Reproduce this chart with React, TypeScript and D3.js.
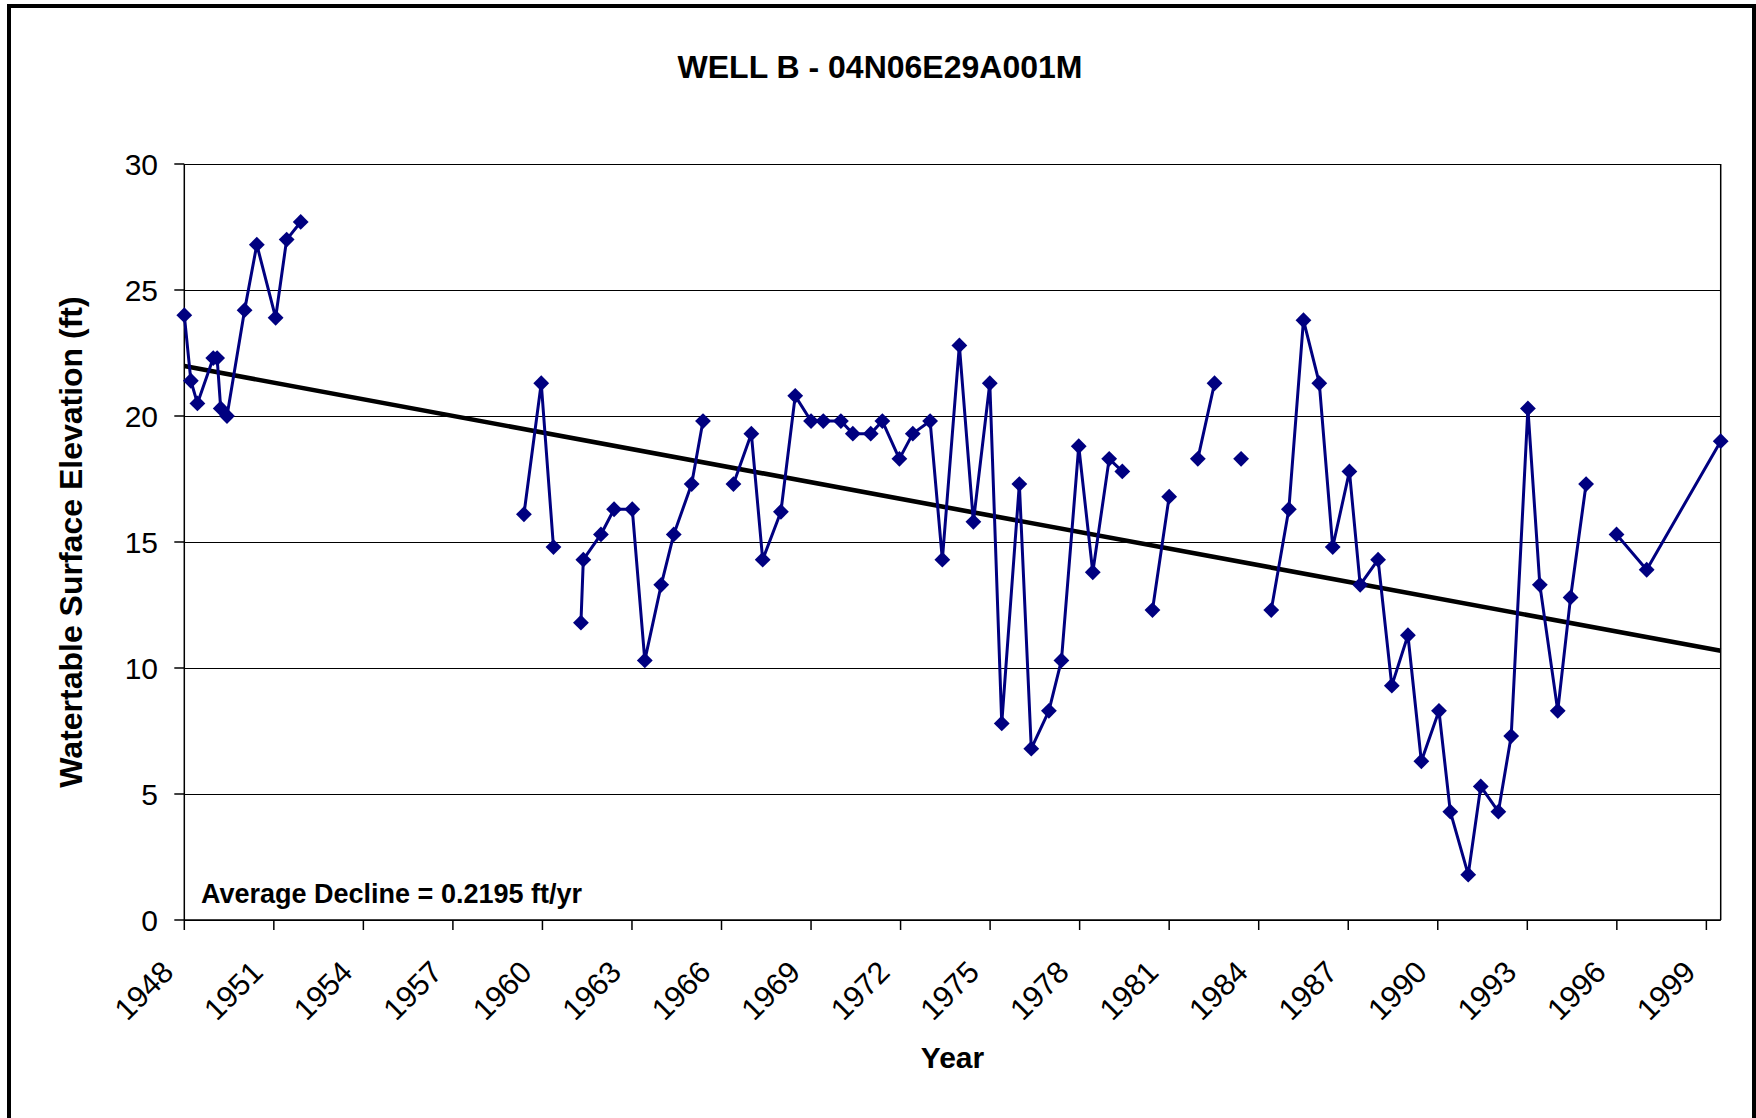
import React from "react";
import * as d3 from "d3";

// Measurement dates (decimal years) and water table elevations (ft); null = gap in record
const years: number[] = [
  1948.0, 1948.22, 1948.44, 1948.97, 1949.1, 1949.22, 1949.43, 1950.02, 1950.43, 1951.06, 1951.43, 1951.9,
  1955.0,
  1959.38, 1959.96, 1960.37,
  1960.8,
  1961.29, 1961.37, 1961.96, 1962.4, 1963.01, 1963.43, 1963.98, 1964.4, 1965.0, 1965.38,
  1965.9,
  1966.4, 1967.0, 1967.38, 1967.99, 1968.47, 1969.0, 1969.41, 1970.0, 1970.4, 1971.0, 1971.39, 1971.96,
  1972.41, 1972.99, 1973.4, 1973.97, 1974.44, 1974.99, 1975.39, 1975.98, 1976.38, 1976.97, 1977.39,
  1977.97, 1978.44, 1978.99, 1979.43,
  1979.9,
  1980.44, 1981.0,
  1981.5,
  1981.96, 1982.52,
  1983.0,
  1983.41,
  1983.9,
  1984.42, 1985.01, 1985.5, 1986.03, 1986.48, 1987.04, 1987.4, 1988.0, 1988.46, 1989.0, 1989.45,
  1990.04, 1990.42, 1991.02, 1991.44, 1992.03, 1992.46, 1993.02, 1993.42, 1994.02, 1994.45, 1994.97,
  1995.5,
  1995.99, 1997.0, 1999.48,
];

const elevations: (number | null)[] = [
  24.0, 21.4, 20.5, 22.3, 22.3, 20.3, 20.0, 24.2, 26.8, 23.9, 27.0, 27.7,
  null,
  16.1, 21.3, 14.8,
  null,
  11.8, 14.3, 15.3, 16.3, 16.3, 10.3, 13.3, 15.3, 17.3, 19.8,
  null,
  17.3, 19.3, 14.3, 16.2, 20.8, 19.8, 19.8, 19.8, 19.3, 19.3, 19.8, 18.3,
  19.3, 19.8, 14.3, 22.8, 15.8, 21.3, 7.8, 17.3, 6.8, 8.3, 10.3,
  18.8, 13.8, 18.3, 17.8,
  null,
  12.3, 16.8,
  null,
  18.3, 21.3,
  null,
  18.3,
  null,
  12.3, 16.3, 23.8, 21.3, 14.8, 17.8, 13.3, 14.3, 9.3, 11.3, 6.3,
  8.3, 4.3, 1.8, 5.3, 4.3, 7.3, 20.3, 13.3, 8.3, 12.8, 17.3,
  null,
  15.3, 13.9, 19.0,
];

const yTicks: number[] = [0, 5, 10, 15, 20, 25, 30];
const xTickYears: number[] = [1948, 1951, 1954, 1957, 1960, 1963, 1966, 1969, 1972, 1975, 1978, 1981, 1984, 1987, 1990, 1993, 1996, 1999];

const trendStart = 1948.0;
const trendEnd = 1999.48;
const trendIntercept = 21.98; // value at trendStart
const trendSlope = -0.2195; // ft per year

const title = "WELL B - 04N06E29A001M";
const yLabel = "Watertable Surface Elevation (ft)";
const xLabel = "Year";
const annotation = "Average Decline = 0.2195 ft/yr";

const W = 1756;
const H = 1118;
const plot = { left: 184.3, right: 1720.7, top: 164, bottom: 920 };
const FONT = "'Liberation Sans', Arial, sans-serif";
const NAVY = "#000080";

export default function App() {
  const x = d3.scaleLinear().domain([1948, 1999.48]).range([plot.left, plot.right]);
  const y = d3.scaleLinear().domain([0, 30]).range([plot.bottom, plot.top]);

  const pts = years.map((yr, i) => ({ yr, v: elevations[i] }));
  const line = d3
    .line<{ yr: number; v: number | null }>()
    .defined((d) => d.v !== null)
    .x((d) => x(d.yr))
    .y((d) => y(d.v as number));

  const diamond = d3.symbol().type(d3.symbolSquare).size(125)();

  const trend = [trendStart, trendEnd].map((t) => ({ t, v: trendIntercept + trendSlope * (t - trendStart) }));

  return (
    <svg width={W} height={H} style={{ position: "absolute", left: 0, top: 0, background: "#fff" }}>
      <rect x={0} y={0} width={W} height={H} fill="#fff" />
      {/* outer border */}
      <rect x={9} y={6} width={1745} height={1140} fill="none" stroke="#000" strokeWidth={4} />

      {/* title */}
      <text x={880} y={78} textAnchor="middle" fontFamily={FONT} fontWeight="bold" fontSize={32} fill="#000">
        {title}
      </text>

      {/* gridlines */}
      {yTicks.map((t) => (
        <line key={"g" + t} x1={plot.left} x2={plot.right} y1={Math.round(y(t)) + 0.5} y2={Math.round(y(t)) + 0.5} stroke="#000" strokeWidth={1} />
      ))}
      {/* plot border right */}
      <line x1={plot.right} x2={plot.right} y1={plot.top} y2={plot.bottom} stroke="#000" strokeWidth={1.5} />

      {/* axes */}
      <line x1={plot.left} x2={plot.left} y1={plot.top} y2={plot.bottom} stroke="#000" strokeWidth={1.5} />
      <line x1={plot.left} x2={plot.right} y1={plot.bottom} y2={plot.bottom} stroke="#000" strokeWidth={1.5} />

      {/* y ticks */}
      {yTicks.map((t) => (
        <g key={"yt" + t}>
          <line x1={plot.left - 10} x2={plot.left} y1={y(t)} y2={y(t)} stroke="#000" strokeWidth={1.5} />
          <text x={158} y={y(t) + 10.8} textAnchor="end" fontFamily={FONT} fontSize={30} fill="#000">
            {t}
          </text>
        </g>
      ))}

      {/* x ticks */}
      {xTickYears.map((t) => (
        <g key={"xt" + t}>
          <line x1={x(t)} x2={x(t)} y1={plot.bottom} y2={plot.bottom + 10} stroke="#000" strokeWidth={1.5} />
          <text
            transform={`translate(${x(t) - 9},${plot.bottom + 54}) rotate(-45)`}
            textAnchor="end"
            fontFamily={FONT}
            fontSize={30.5}
            fill="#000"
          >
            {t}
          </text>
        </g>
      ))}

      {/* trend line */}
      <line
        x1={x(trend[0].t)}
        y1={y(trend[0].v)}
        x2={x(trend[1].t)}
        y2={y(trend[1].v)}
        stroke="#000"
        strokeWidth={4.6}
      />

      {/* series */}
      <path d={line(pts) || ""} fill="none" stroke={NAVY} strokeWidth={3} strokeLinejoin="round" />
      {pts
        .filter((d) => d.v !== null)
        .map((d, i) => (
          <path
            key={"m" + i}
            d={diamond || ""}
            transform={`translate(${x(d.yr)},${y(d.v as number)}) rotate(45)`}
            fill={NAVY}
          />
        ))}

      {/* annotation */}
      <text x={201} y={903} fontFamily={FONT} fontWeight="bold" fontSize={27} fill="#000">
        {annotation}
      </text>

      {/* axis titles */}
      <text
        transform={`translate(82,${(plot.top + plot.bottom) / 2}) rotate(-90)`}
        textAnchor="middle"
        fontFamily={FONT}
        fontWeight="bold"
        fontSize={32}
        fill="#000"
      >
        {yLabel}
      </text>
      <text x={(plot.left + plot.right) / 2} y={1068} textAnchor="middle" fontFamily={FONT} fontWeight="bold" fontSize={30} fill="#000">
        {xLabel}
      </text>
    </svg>
  );
}
